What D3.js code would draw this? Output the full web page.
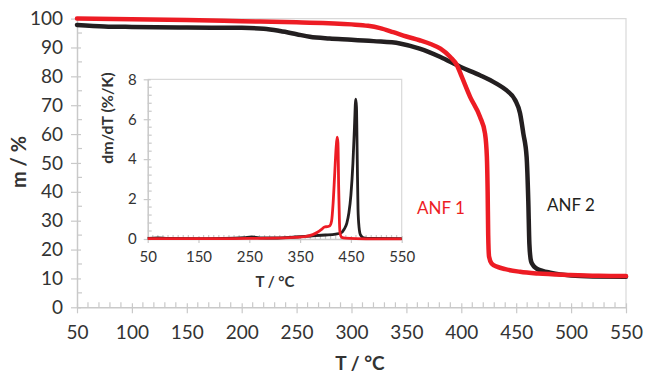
<!DOCTYPE html>
<html><head><meta charset="utf-8">
<script src="https://cdn.jsdelivr.net/npm/d3@7"></script>
<style>
html,body{margin:0;padding:0;background:#fff;}
svg{display:block;font-family:Lato,"Open Sans",sans-serif;}
</style></head>
<body>
<svg id="c" width="645" height="376"></svg>
<script>
// ---------- DATA ----------
const xTicks = [50,100,150,200,250,300,350,400,450,500,550];
const yTicks = [0,10,20,30,40,50,60,70,80,90,100];
const insetXTicks = [50,150,250,350,450,550];
const insetYTicks = [0,2,4,6,8];

// Mass curves (T, m %)
const anf1T = [50,100,150,200,250,300,315,326,338,350,362,372,381,390,396,400.5,408,417,421.6,423.3,424,424.5,425.3,427.6,433,440,453.5,470,499,525,550];
const anf1M = [100,99.8,99.5,99.1,98.7,98.0,97.5,96.7,95.3,93.8,92.5,91.2,89.6,86.7,83.9,79.8,72.9,66.0,60.2,52,40,25,17.5,15.2,14.0,13.2,12.3,11.7,11.2,10.9,10.8];

const anf2T = [50,75,100,150,200,220,235,250,262,280,300,320,344,362,381,399,417,432,441,449,453.5,456.5,459.5,461,462,463.5,465.5,468.6,474,481,490,500,520,550];
const anf2M = [97.8,97.3,97.1,96.9,96.8,96.5,95.7,94.6,93.7,93.1,92.7,92.2,91.4,89.6,86.7,83.3,80.4,77.5,75.2,71.8,67.2,60.2,52,37,22,16,14.5,13.4,12.6,12.0,11.4,11.0,10.7,10.6];

// Derivative curves (T, dm/dT %/K)
const dtg1T = [50,100,150,200,250,300,340,360,375,385,393,398,403,408,412,415,418,421,423,424.5,426,427.5,429,432,440,460,500,550];
const dtg1V = [0.02,0.02,0.02,0.02,0.03,0.04,0.08,0.12,0.22,0.35,0.5,0.6,0.62,0.65,0.9,1.8,3.2,4.6,5.1,4.8,2.5,0.8,0.25,0.08,0.04,0.02,0.01,0.01];

const dtg2T = [50,70,90,150,200,240,255,270,300,340,370,400,420,430,437,442,446,450,454,457,459.5,461,462.5,464,466,469,475,490,550];
const dtg2V = [0.03,0.06,0.03,0.02,0.03,0.07,0.1,0.06,0.05,0.1,0.15,0.2,0.25,0.3,0.5,0.8,1.3,2.2,3.8,5.6,7.0,6.6,4.0,1.5,0.6,0.2,0.06,0.03,0.02];

const seriesNames = ["ANF 1","ANF 2"];
const RED = "#ed1c24", BLK = "#231f20";
const AXC = "#c9c9c9", TXT = "#333333";

// ---------- CHART ----------
const svg = d3.select("#c");

function drawAxes(g, x, y, opts){
  const [x0,x1] = x.range(), [y0,y1] = y.range();
  g.append("path").attr("d",`M${x0},${y1}H${x1}V${y0}`).attr("fill","none").attr("stroke","#d9d9d9").attr("stroke-width",1.2);
  g.selectAll(null).data(opts.xMinor).join("line")
    .attr("x1",d=>x(d)).attr("x2",d=>x(d)).attr("y1",y0).attr("y2",y0-opts.minorLen)
    .attr("stroke",AXC).attr("stroke-width",1.2);
  g.selectAll(null).data(opts.yMinor).join("line")
    .attr("y1",d=>y(d)).attr("y2",d=>y(d)).attr("x1",x0).attr("x2",x0+opts.minorLen)
    .attr("stroke",AXC).attr("stroke-width",1.2);
  const ax = g.append("g").attr("transform",`translate(0,${y0})`)
    .call(d3.axisBottom(x).tickValues(opts.xTicks).tickSizeInner(opts.majOut).tickSizeOuter(0).tickPadding(opts.xPad));
  ax.select(".domain").attr("stroke",AXC).attr("stroke-width",1.5);
  ax.selectAll(".tick line").attr("stroke",AXC).attr("stroke-width",1.2).attr("y1",-opts.majIn);
  ax.selectAll(".tick text").attr("fill",TXT).attr("font-size",opts.fs).attr("font-family","Lato, sans-serif");
  const ay = g.append("g").attr("transform",`translate(${x0},0)`)
    .call(d3.axisLeft(y).tickValues(opts.yTicks).tickSizeInner(opts.majOut).tickSizeOuter(0).tickPadding(opts.yPad));
  ay.select(".domain").attr("stroke",AXC).attr("stroke-width",1.5);
  ay.selectAll(".tick line").attr("stroke",AXC).attr("stroke-width",1.2).attr("x1",opts.majIn);
  ay.selectAll(".tick text").attr("fill",TXT).attr("font-size",opts.fs).attr("font-family","Lato, sans-serif");
}

// main
const x = d3.scaleLinear().domain([50,550]).range([77,626]);
const y = d3.scaleLinear().domain([0,100]).range([307.3,18.6]);
const main = svg.append("g");
drawAxes(main, x, y, {
  xTicks, yTicks, xMinor: d3.range(60,550,10).filter(v=>v%50), yMinor: d3.range(5,100,10),
  minorLen:5, majOut:6, majIn:4, fs:19, xPad:12, yPad:8
});

const line = d3.line().x(d=>x(d[0])).y(d=>y(d[1])).curve(d3.curveMonotoneX);
main.append("path").datum(d3.zip(anf2T,anf2M)).attr("d",line).attr("fill","none").attr("stroke",BLK).attr("stroke-width",4.5).attr("stroke-linecap","round");
main.append("path").datum(d3.zip(anf1T,anf1M)).attr("d",line).attr("fill","none").attr("stroke",RED).attr("stroke-width",4.5).attr("stroke-linecap","round");

main.append("text").attr("x",417).attr("y",214).attr("fill",RED).attr("font-size",17).text(seriesNames[0]);
main.append("text").attr("x",547).attr("y",211).attr("fill",BLK).attr("font-size",17).text(seriesNames[1]);

main.append("text").attr("x",360).attr("y",370).attr("text-anchor","middle").attr("font-size",19).attr("font-weight","bold").attr("fill",TXT).text("T / °C");
main.append("text").attr("transform","translate(26,162) rotate(-90)").attr("text-anchor","middle").attr("font-size",20).attr("font-weight","bold").attr("fill",TXT).text("m / %");

// inset
const ix = d3.scaleLinear().domain([50,550]).range([147.7,401.7]);
const iy = d3.scaleLinear().domain([0,8]).range([239,79.3]);
const ins = svg.append("g");
ins.append("rect").attr("x",147.7).attr("y",79.3).attr("width",254).attr("height",159.7).attr("fill","#fff");
drawAxes(ins, ix, iy, {
  xTicks: insetXTicks, yTicks: insetYTicks, xMinor: d3.range(60,550,10).filter(v=>(v-50)%100), yMinor: d3.range(0.4,8,0.4).filter(v=>Math.abs(v/2-Math.round(v/2))>0.01),
  minorLen:4, majOut:4, majIn:3, fs:15, xPad:8, yPad:7
});
const iline = d3.line().x(d=>ix(d[0])).y(d=>iy(d[1])).curve(d3.curveMonotoneX);
ins.append("path").datum(d3.zip(dtg2T,dtg2V)).attr("d",iline).attr("fill","none").attr("stroke",BLK).attr("stroke-width",2.8);
ins.append("path").datum(d3.zip(dtg1T,dtg1V)).attr("d",iline).attr("fill","none").attr("stroke",RED).attr("stroke-width",2.8);

ins.append("text").attr("x",275).attr("y",287).attr("text-anchor","middle").attr("font-size",15).attr("font-weight","bold").attr("fill",TXT).text("T / °C");
ins.append("text").attr("transform","translate(113,118) rotate(-90)").attr("text-anchor","middle").attr("font-size",16).attr("font-weight","bold").attr("fill",TXT).text("dm/dT (%/K)");
</script>
</body></html>
